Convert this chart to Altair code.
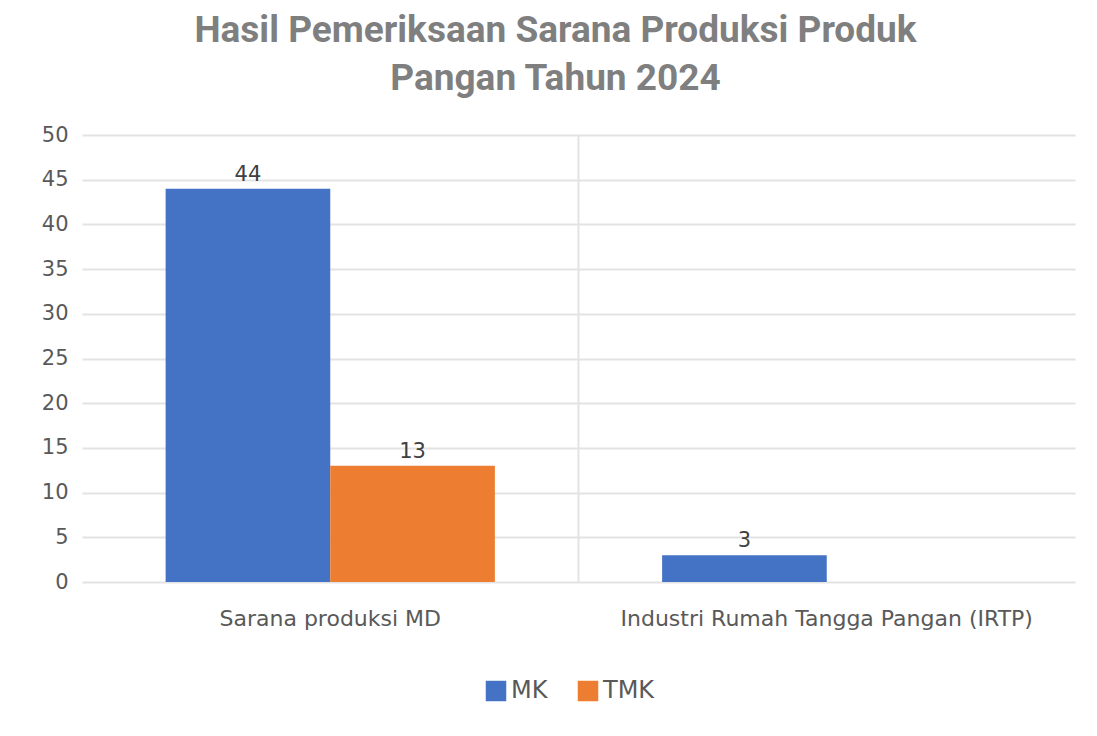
import altair as alt
import pandas as pd

categories = ["Sarana produksi  MD", "Sarana produksi  MD",
              "Industri Rumah Tangga Pangan (IRTP)", "Industri Rumah Tangga Pangan (IRTP)"]
series = ["MK", "TMK", "MK", "TMK"]
values = [44, 13, 3, 0]
cat_order = ["Sarana produksi  MD", "Industri Rumah Tangga Pangan (IRTP)"]
series_order = ["MK", "TMK"]
colors = ["#4472C4", "#ED7D31"]

df = pd.DataFrame({"cat": categories, "series": series, "value": values})
sep = pd.DataFrame({"cat": [cat_order[1]]})

FONT = "DejaVu Sans"
TFONT = "Roboto"

xscale = alt.Scale(domain=cat_order, paddingInner=0, paddingOuter=0)
xoff_scale = alt.Scale(domain=series_order, paddingInner=0, paddingOuter=0.508)

bars = alt.Chart(df).mark_bar(cornerRadius=0).encode(
    x=alt.X("cat:N", scale=xscale, sort=cat_order,
            axis=alt.Axis(title=None, labelAngle=0, ticks=False, domain=False, grid=False,
                          labelFontSize=22, labelColor="#595959", labelFont=FONT,
                          labelPadding=36, labelLimit=0, bandPosition=0.5,
                          labelAlign="center")),
    xOffset=alt.XOffset("series:N", scale=xoff_scale, sort=series_order),
    y=alt.Y("value:Q", scale=alt.Scale(domain=[0, 50]),
            axis=alt.Axis(title=None, values=list(range(0, 55, 5)), ticks=False, domain=False,
                          gridColor="#e3e3e3", gridWidth=2, labelFontSize=21,
                          labelColor="#595959", labelFont=FONT, labelPadding=14)),
    color=alt.Color("series:N", scale=alt.Scale(domain=series_order, range=colors),
                    legend=alt.Legend(title=None, orient="none", direction="horizontal",
                                      legendX=402, legendY=544,
                                      symbolType="square",
                                      symbolSize=420, symbolStrokeWidth=0,
                                      symbolOpacity=1,
                                      labelFontSize=24, labelColor="#595959",
                                      labelFont=FONT, columnPadding=28, labelOffset=3)),
)

labels = alt.Chart(df).transform_filter("datum.value > 0").mark_text(
    baseline="bottom", dy=-4, fontSize=21, color="#404040", font=FONT
).encode(
    x=alt.X("cat:N", scale=xscale, sort=cat_order),
    xOffset=alt.XOffset("series:N", scale=xoff_scale, sort=series_order),
    y=alt.Y("value:Q"),
    text=alt.Text("value:Q"),
)

separator = alt.Chart(sep).mark_rule(color="#e3e3e3", strokeWidth=2).encode(
    x=alt.X("cat:N", scale=xscale, sort=cat_order, bandPosition=0),
    y=alt.value(0),
    y2=alt.value(447),
)

chart = alt.layer(separator, bars, labels).properties(
    width=993,
    height=447,
    padding={"left": 74, "top": 127, "right": 14, "bottom": 140},
    autosize=alt.AutoSizeParams(type="none"),
    title=alt.Title(["Hasil Pemeriksaan Sarana Produksi Produk", "Pangan Tahun 2024"],
                    fontSize=37, font=TFONT, fontWeight="bold", color="#7f7f7f",
                    anchor="middle", dx=-23, offset=26, lineHeight=48),
).configure_view(stroke=None)

chart.save("out.html", embed_options={"renderer": "svg", "actions": False})
